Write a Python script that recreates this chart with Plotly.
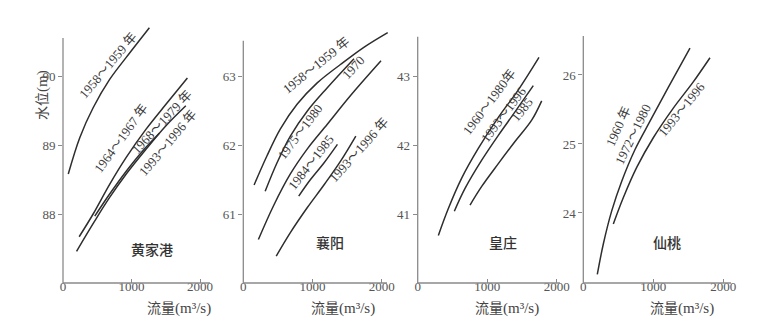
import plotly.graph_objects as go

W, H = 768, 319

# ---------------- data ----------------
# 黄家港
hjg_1958_x = [77, 246, 440, 681, 923, 1261]
hjg_1958_y = [88.58, 89.11, 89.54, 89.95, 90.27, 90.70]
hjg_1964_x = [236, 440, 681, 923, 1213, 1503, 1816]
hjg_1964_y = [87.67, 88.00, 88.43, 88.82, 89.23, 89.59, 89.97]
hjg_1968_x = [198, 464, 681, 923, 1213, 1503, 1793]
hjg_1968_y = [87.46, 87.90, 88.24, 88.58, 88.94, 89.28, 89.57]
hjg_1993_x = [464, 681, 923, 1160, 1406]
hjg_1993_y = [87.97, 88.29, 88.62, 88.91, 89.17]

# 襄阳
xy_1958_x = [156, 341, 534, 777, 1068, 1408, 1747, 2087]
xy_1958_y = [61.42, 61.84, 62.23, 62.59, 62.90, 63.17, 63.42, 63.63]
xy_1975_x = [316, 486, 680, 923, 1214, 1600]
xy_1975_y = [61.33, 61.74, 62.13, 62.49, 62.83, 63.25]
xy_1970_x = [218, 437, 680, 923, 1214, 1553, 1990]
xy_1970_y = [60.63, 61.12, 61.58, 61.94, 62.30, 62.72, 63.22]
xy_1984_x = [801, 971, 1165, 1360]
xy_1984_y = [61.26, 61.50, 61.74, 62.01]
xy_1993_x = [476, 680, 923, 1165, 1408, 1626]
xy_1993_y = [60.39, 60.73, 61.09, 61.42, 61.77, 62.13]

# 皇庄
hz_1960_x = [297, 441, 633, 872, 1160, 1448, 1745]
hz_1960_y = [40.69, 41.08, 41.52, 41.95, 42.40, 42.80, 43.27]
hz_1993_x = [527, 681, 921, 1160, 1400, 1663]
hz_1993_y = [41.04, 41.37, 41.78, 42.14, 42.48, 42.86]
hz_1985_x = [753, 921, 1160, 1400, 1640, 1784]
hz_1985_y = [41.13, 41.40, 41.73, 42.05, 42.36, 42.64]

# 仙桃
xt_1960_x = [200, 286, 406, 549, 739, 953, 1214, 1524]
xt_1960_y = [23.11, 23.55, 24.03, 24.46, 24.92, 25.33, 25.82, 26.39]
xt_1993_x = [429, 571, 763, 1000, 1286, 1571, 1810]
xt_1993_y = [23.84, 24.22, 24.66, 25.09, 25.52, 25.90, 26.25]

stations = ["黄家港", "襄阳", "皇庄", "仙桃"]
x_ticks = [0, 1000, 2000]
y_ticks = [[88, 89, 90], [61, 62, 63], [41, 42, 43], [24, 25, 26]]
y_mins = [87, 60, 40, 22.985]
x_title = "流量<span style='font-family:Liberation Serif;font-size:15px'>(m³/s)</span>"
y_title = "水位<span style='font-family:Liberation Serif;font-size:15px'>(m)</span>"

panel_series = [
    [(hjg_1958_x, hjg_1958_y), (hjg_1964_x, hjg_1964_y), (hjg_1968_x, hjg_1968_y), (hjg_1993_x, hjg_1993_y)],
    [(xy_1958_x, xy_1958_y), (xy_1975_x, xy_1975_y), (xy_1970_x, xy_1970_y), (xy_1984_x, xy_1984_y), (xy_1993_x, xy_1993_y)],
    [(hz_1960_x, hz_1960_y), (hz_1993_x, hz_1993_y), (hz_1985_x, hz_1985_y)],
    [(xt_1960_x, xt_1960_y), (xt_1993_x, xt_1993_y)],
]

# curve labels: (text, px, py, angle)
curve_labels = [
    ("1958～1959 年", 108, 66, -50),
    ("1964～1967 年", 120.5, 138, -54),
    ("1968～1979 年", 161, 122, -47),
    ("1993～1996 年", 167, 143, -50),
    ("1958～1959 年", 316, 66, -39),
    ("1970", 353, 67, -47),
    ("1975～1980", 300.5, 132, -53),
    ("1984～1985", 310.5, 162, -52),
    ("1993～1996 年", 358, 150, -48),
    ("1960～1980年", 488.5, 102, -53),
    ("1993～1996", 503.5, 114.5, -53),
    ("1985", 522, 109.5, -51),
    ("1960 年", 618.5, 127, -66),
    ("1972～1980", 632.5, 134, -64),
    ("1993～1996", 681.5, 109.5, -51),
]

# ---------------- layout geometry (pixels) ----------------
x0_px = [63, 243.3, 417.7, 583.3]
kx = [0.0685, 0.0692, 0.0695, 0.070]     # px per m3/s
x_span_px = [152, 149, 147, 152]
x_axis_end = [210, 387, 560, 731]
y_axis_top = [38, 40.7, 36.7, 36]
ky = 69.0
bottom_px = 283
top_px = 12
station_pos = [(152, 249), (330, 242), (503, 242), (667, 242)]
xtitle_pos = [179, 343, 507, 682]

AX = "#8a8a8a"
LINE = "#2e2e2e"
SERIF = "Liberation Serif, Noto Sans CJK SC, serif"
CJK = "Noto Sans CJK SC, sans-serif"

fig = go.Figure()
layout = dict(
    width=W, height=H, margin=dict(l=0, r=0, t=0, b=0),
    paper_bgcolor="white", plot_bgcolor="white", showlegend=False,
)
shapes = []
annotations = []

for i in range(4):
    sfx = "" if i == 0 else str(i + 1)
    xa, ya = "x" + sfx, "y" + sfx
    for xs, ys in panel_series[i]:
        fig.add_trace(go.Scatter(
            x=xs, y=ys, xaxis=xa, yaxis=ya, mode="lines",
            line=dict(color=LINE, width=1.5, shape="spline", smoothing=1.0),
            hoverinfo="skip",
        ))
    dom_x = [x0_px[i] / W, (x0_px[i] + x_span_px[i]) / W]
    dom_y = [1 - bottom_px / H, 1 - top_px / H]
    xr = [0, x_span_px[i] / kx[i]]
    yr = [y_mins[i], y_mins[i] + (bottom_px - top_px) / ky]
    layout["xaxis" + sfx] = dict(
        domain=dom_x, range=xr, anchor=ya, tickvals=x_ticks,
        ticktext=[str(v) for v in x_ticks],
        ticks="inside", ticklen=4, tickwidth=1, tickcolor=AX,
        ticklabelstandoff=-6,
        showgrid=False, zeroline=False, showline=False, automargin=False,
        tickfont=dict(family=SERIF, size=13, color="#555"),
    )
    layout["yaxis" + sfx] = dict(
        domain=dom_y, range=yr, anchor=xa, tickvals=y_ticks[i],
        ticktext=[str(v) for v in y_ticks[i]],
        ticks="outside", ticklen=4, tickwidth=1, tickcolor=AX,
        showgrid=False, zeroline=False, showline=False, automargin=False,
        tickfont=dict(family=SERIF, size=13, color="#555"),
    )
    # axis lines
    shapes.append(dict(type="line", xref="paper", yref="paper",
                       x0=x0_px[i] / W, x1=x0_px[i] / W,
                       y0=1 - bottom_px / H, y1=1 - y_axis_top[i] / H,
                       line=dict(color=AX, width=1.3)))
    shapes.append(dict(type="line", xref="paper", yref="paper",
                       x0=x0_px[i] / W, x1=x_axis_end[i] / W,
                       y0=1 - bottom_px / H, y1=1 - bottom_px / H,
                       line=dict(color=AX, width=1.3)))
    # station name
    sx, sy = station_pos[i]
    annotations.append(dict(text=stations[i], xref="paper", yref="paper",
                            x=sx / W, y=1 - sy / H, showarrow=False,
                            xanchor="center", yanchor="middle",
                            font=dict(family=CJK, size=14, color="#333", weight=500)))
    # x title
    annotations.append(dict(text=x_title, xref="paper", yref="paper",
                            x=xtitle_pos[i] / W, y=1 - 306.5 / H, showarrow=False,
                            xanchor="center", yanchor="middle",
                            font=dict(family=CJK, size=14, color="#444")))

annotations.append(dict(text=y_title, xref="paper", yref="paper",
                        x=41 / W, y=1 - 95 / H, showarrow=False, textangle=-90,
                        xanchor="center", yanchor="middle",
                        font=dict(family=CJK, size=14, color="#444")))

for txt, px, py, ang in curve_labels:
    annotations.append(dict(text=txt, xref="paper", yref="paper",
                            x=px / W, y=1 - py / H, showarrow=False, textangle=ang,
                            xanchor="center", yanchor="middle",
                            font=dict(family=SERIF, size=13, color="#3a3a3a")))

layout["shapes"] = shapes
layout["annotations"] = annotations
fig.update_layout(**layout)
fig.write_html("out.html")
